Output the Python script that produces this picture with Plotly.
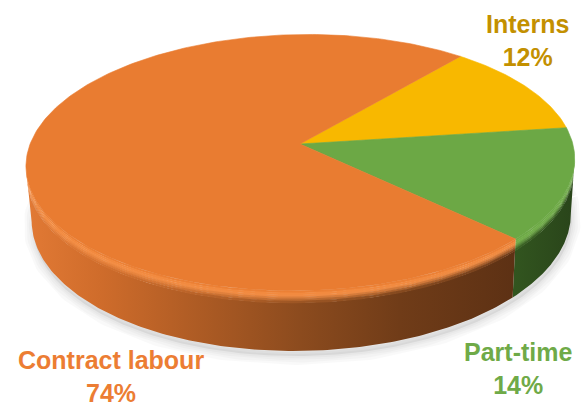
import numpy as np
import plotly.graph_objects as go

# ---------------- data ----------------
labels = ["Interns", "Part-time", "Contract labour"]
shares = [12, 14, 74]
pct_text = ["12%", "14%", "74%"]

# ---------------- styling ----------------
top_colors = {"Interns": "#F8B800", "Part-time": "#6CA845", "Contract labour": "#E97C31"}
text_colors = {"Interns": "#C39000", "Part-time": "#6FAA48", "Contract labour": "#EC7D33"}
rim_highlight = {"Interns": "#FFC83A", "Part-time": "#74B04C", "Contract labour": "#F58F45"}
# side-wall shading as (x pixel, colour) stops
side_stops = {
    "Interns": [(25, "#B88800"), (575, "#7A5A00")],
    "Part-time": [(25, "#3E6A28"), (515, "#32551F"), (575, "#29441A")],
    "Contract labour": [(25, "#E27A35"), (100, "#CF6C2B"), (200, "#AD5B24"),
                        (300, "#8C4B1E"), (400, "#703C18"), (515, "#5D3114"),
                        (575, "#5A2F13")],
}
label_pos = {  # centre of the two-line label block, in page pixels
    "Interns": (527, 40),
    "Part-time": (518, 368),
    "Contract labour": (111, 376),
}

# ---------------- camera / disc geometry ----------------
W, H = 585, 410
HUB_X, HUB_Y = 300.0, 144.0
SCALE = 1660.0
DIST = 6.114
TILT = np.radians(27.5)
THICK = 0.229
BEVEL = 0.045
ROLL = np.radians(1.0)
START_DEG = 48.6
GRAD_X0, GRAD_X1 = 25.0, 575.0


def project(theta, r=1.0, z=0.0):
    """Perspective projection of a point on the disc to page pixels."""
    theta = np.asarray(theta, dtype=float)
    X = r * np.cos(theta)
    Y = r * np.sin(theta)
    v = Y * np.sin(TILT) + z * np.cos(TILT)
    w = DIST + Y * np.cos(TILT) - z * np.sin(TILT)
    u = SCALE * X / w
    v = SCALE * v / w
    ur = u * np.cos(ROLL) - v * np.sin(ROLL)
    vr = u * np.sin(ROLL) + v * np.cos(ROLL)
    return HUB_X + ur, HUB_Y - vr


def hex_rgb(c):
    c = c.lstrip("#")
    return np.array([int(c[i:i + 2], 16) for i in (0, 2, 4)], dtype=float)


def rgb_hex(a):
    a = np.clip(np.round(a), 0, 255).astype(int)
    return "#%02X%02X%02X" % tuple(a)


def mix(c1, c2, t):
    return rgb_hex(hex_rgb(c1) * (1 - t) + hex_rgb(c2) * t)


def scale_from_stops(stops):
    return [[(x - GRAD_X0) / (GRAD_X1 - GRAD_X0), c] for x, c in stops]


fractions = np.array(shares, dtype=float) / sum(shares)
spans = 2 * np.pi * fractions
starts = np.radians(START_DEG) - np.concatenate([[0.0], np.cumsum(spans)[:-1]])
ends = starts - spans

# front arc of the wall between the two silhouette tangents
sil = np.arcsin(np.cos(TILT) / DIST)
vis_lo, vis_hi = -np.pi + sil, -sil


def visible_part(a_end, a_start):
    for k in (-1, 0, 1):
        lo = max(a_end, vis_lo + 2 * np.pi * k)
        hi = min(a_start, vis_hi + 2 * np.pi * k)
        if hi > lo:
            return lo, hi
    return None


fig = go.Figure()

# soft drop shadow under the disc
t_all = np.linspace(0, 2 * np.pi, 361)
sx, sy = project(t_all, 1.0, -THICK)
sx = sx + 1
sy = sy + 5
fig.add_trace(go.Scatter(x=sx, y=sy, mode="lines", fill="toself",
                         fillcolor="rgba(0,0,0,0.06)",
                         line=dict(color="rgba(0,0,0,0)", width=0),
                         hoverinfo="skip", showlegend=False))
for lw in (18, 13, 8, 4):
    fig.add_trace(go.Scatter(x=sx, y=sy, mode="lines",
                             line=dict(color="rgba(0,0,0,0.022)", width=lw),
                             hoverinfo="skip", showlegend=False))

# side walls and rounded rim of each slice
N_BEVEL = 6
for name, a0, a1 in zip(labels, starts, ends):
    part = visible_part(a1, a0)
    if part is None:
        continue
    lo, hi = part
    th = np.linspace(lo, hi, 160)
    stops = side_stops[name]

    # wall
    tx, ty = project(th, 1.0, -BEVEL)
    bx, by = project(th[::-1], 1.0, -THICK)
    fig.add_trace(go.Scatter(
        x=np.concatenate([tx, bx, tx[:1]]), y=np.concatenate([ty, by, ty[:1]]),
        mode="lines", fill="toself", line=dict(width=0, color="rgba(0,0,0,0)"),
        fillgradient=dict(type="horizontal", colorscale=scale_from_stops(stops),
                          start=GRAD_X0, stop=GRAD_X1),
        hoverinfo="skip", showlegend=False))

    # rounded edge between top face and wall
    for i in range(N_BEVEL):
        z0 = -BEVEL * i / N_BEVEL
        z1 = -BEVEL * (i + 1) / N_BEVEL - 0.002
        t = (i + 0.5) / N_BEVEL
        if t < 0.35:
            c = mix(top_colors[name], rim_highlight[name], t / 0.35)
            band = [(x, c) for x, _ in stops]
        else:
            f = ((t - 0.35) / 0.65) ** 1.3
            band = [(x, mix(rim_highlight[name], col, f)) for x, col in stops]
        ux, uy = project(th, 1.0, z0)
        lx, ly = project(th[::-1], 1.0, z1)
        fig.add_trace(go.Scatter(
            x=np.concatenate([ux, lx, ux[:1]]), y=np.concatenate([uy, ly, uy[:1]]),
            mode="lines", fill="toself", line=dict(width=0, color="rgba(0,0,0,0)"),
            fillgradient=dict(type="horizontal", colorscale=scale_from_stops(band),
                              start=GRAD_X0, stop=GRAD_X1),
            hoverinfo="skip", showlegend=False))

# top faces of the slices
for name, a0, a1 in zip(labels, starts, ends):
    th = np.linspace(a0, a1, max(8, int(abs(a0 - a1) / np.radians(1)) + 2))
    rx, ry = project(th, 1.0, 0.0)
    x = np.concatenate([[HUB_X], rx, [HUB_X]])
    y = np.concatenate([[HUB_Y], ry, [HUB_Y]])
    fig.add_trace(go.Scatter(x=x, y=y, mode="lines", fill="toself",
                             fillcolor=top_colors[name],
                             line=dict(width=0.6, color=top_colors[name]),
                             hoverinfo="skip", showlegend=False))

# data labels: category name over its share
for name, pct in zip(labels, pct_text):
    cx, cy = label_pos[name]
    fig.add_annotation(x=cx, y=cy, xref="x", yref="y",
                       text=f"<b>{name}<br>{pct}</b>",
                       showarrow=False, xanchor="center", yanchor="middle",
                       align="center", borderpad=0,
                       font=dict(family="Liberation Sans, Arial, sans-serif",
                                 size=25, color=text_colors[name]))

fig.update_layout(
    width=W, height=H,
    margin=dict(l=0, r=0, t=0, b=0),
    paper_bgcolor="white", plot_bgcolor="white",
    xaxis=dict(range=[0, W], visible=False, fixedrange=True),
    yaxis=dict(range=[H, 0], visible=False, fixedrange=True),
    showlegend=False,
)

fig.write_html("out.html", config={"displayModeBar": False, "staticPlot": True})
